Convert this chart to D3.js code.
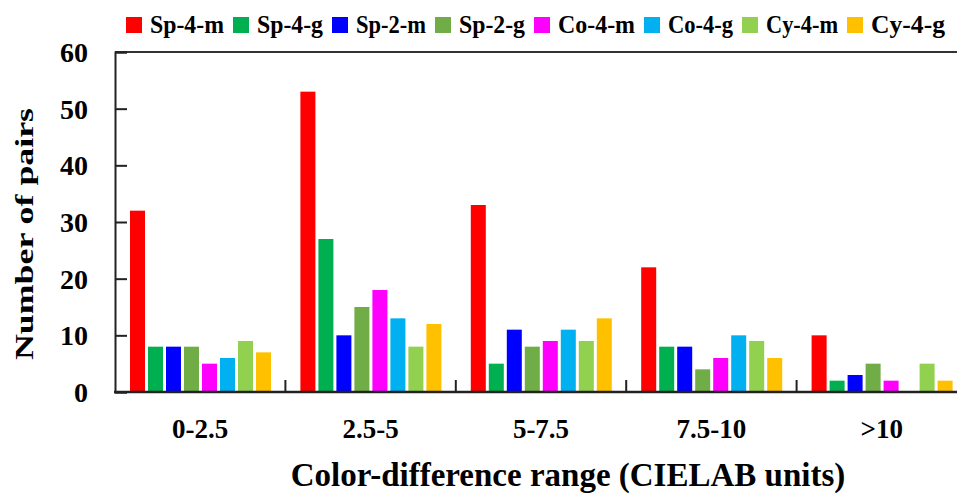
<!DOCTYPE html>
<html>
<head>
<meta charset="utf-8">
<script src="https://cdn.jsdelivr.net/npm/d3@7"></script>
<style>
  body { margin: 0; background: #fff; }
  svg { display: block; overflow: hidden; }
  text { font-family: "Liberation Serif", "Times New Roman", serif; font-weight: bold; fill: #000; }
</style>
</head>
<body>
<svg id="chart" width="957" height="493"></svg>
<script>
const categories = ["0-2.5", "2.5-5", "5-7.5", "7.5-10", ">10"];
const series = ["Sp-4-m", "Sp-4-g", "Sp-2-m", "Sp-2-g", "Co-4-m", "Co-4-g", "Cy-4-m", "Cy-4-g"];
const colors = ["#ff0000", "#00b050", "#0000ff", "#70ad47", "#ff00ff", "#00b0f0", "#92d050", "#ffc000"];

// one array per series, values per category
const sp4m = [32, 53, 33, 22, 10];
const sp4g = [8, 27, 5, 8, 2];
const sp2m = [8, 10, 11, 8, 3];
const sp2g = [8, 15, 8, 4, 5];
const co4m = [5, 18, 9, 6, 2];
const co4g = [6, 13, 11, 10, 0];
const cy4m = [9, 8, 9, 9, 5];
const cy4g = [7, 12, 13, 6, 2];
const seriesValues = [sp4m, sp4g, sp2m, sp2g, co4m, co4g, cy4m, cy4g];

const yTicks = [0, 10, 20, 30, 40, 50, 60];

const svg = d3.select("#chart");
const margin = { left: 115, right: -10, top: 52, bottom: 101 };
const width = 957, height = 493;

const x = d3.scaleBand()
  .domain(categories)
  .range([margin.left, width - margin.right])
  .padding(0);

const xInner = d3.scaleBand()
  .domain(series)
  .range([15, 156])
  .paddingInner(1 / 6)
  .paddingOuter(0);

const y = d3.scaleLinear()
  .domain([0, 60])
  .range([height - margin.bottom, margin.top]);

const rows = [];
categories.forEach((c, i) => {
  series.forEach((s, j) => {
    rows.push({ cat: c, series: s, value: seriesValues[j][i], color: colors[j] });
  });
});

// bars
svg.append("g")
  .selectAll("rect")
  .data(rows)
  .join("rect")
  .attr("x", d => x(d.cat) + xInner(d.series))
  .attr("y", d => y(d.value))
  .attr("width", xInner.bandwidth())
  .attr("height", d => y(0) - y(d.value))
  .attr("fill", d => d.color);

// frame top line
svg.append("line")
  .attr("x1", margin.left).attr("x2", width)
  .attr("y1", y(60)).attr("y2", y(60))
  .attr("stroke", "#333").attr("stroke-width", 2);

// y axis
const yAxis = g => g
  .attr("transform", `translate(${ margin.left },0)`)
  .call(d3.axisRight(y).tickValues(yTicks).tickSize(12).tickFormat(""))
  .call(g => g.select(".domain").attr("stroke", "#222").attr("stroke-width", 2))
  .call(g => g.selectAll(".tick line").attr("stroke", "#222").attr("stroke-width", 2));
svg.append("g").call(yAxis);

svg.append("g")
  .selectAll("text")
  .data(yTicks)
  .join("text")
  .attr("x", 88)
  .attr("y", d => y(d))
  .attr("dy", "0.36em")
  .attr("text-anchor", "end")
  .style("font-size", "28px")
  .text(d => d);

// x axis
const bounds = categories.map(c => x(c)).slice(1);
svg.append("line")
  .attr("x1", margin.left - 1).attr("x2", width)
  .attr("y1", y(0)).attr("y2", y(0))
  .attr("stroke", "#222").attr("stroke-width", 2.5);

svg.append("g")
  .selectAll("line")
  .data(bounds)
  .join("line")
  .attr("x1", d => d).attr("x2", d => d)
  .attr("y1", y(0)).attr("y2", y(0) - 12)
  .attr("stroke", "#222").attr("stroke-width", 2);

svg.append("g")
  .selectAll("text")
  .data(categories)
  .join("text")
  .attr("x", d => x(d) + x.bandwidth() / 2)
  .attr("y", 438)
  .attr("text-anchor", "middle")
  .style("font-size", "27px")
  .text(d => d);

// axis titles
svg.append("text")
  .attr("x", 568)
  .attr("y", 486)
  .attr("text-anchor", "middle")
  .style("font-size", "33px")
  .text("Color-difference range (CIELAB units)");

svg.append("text")
  .attr("transform", "translate(33,234) rotate(-90)")
  .attr("text-anchor", "middle")
  .attr("textLength", 252)
  .attr("lengthAdjust", "spacingAndGlyphs")
  .style("font-size", "25px")
  .text("Number of pairs");

// legend (square positions and label widths as in the original layout)
const legendX = [126, 233, 332, 435, 534, 644, 742, 847];
const legendW = [74, 66, 70, 66, 77, 65, 72, 74];
const legend = svg.append("g");
series.forEach((s, i) => {
  legend.append("rect")
    .attr("x", legendX[i]).attr("y", 17)
    .attr("width", 16).attr("height", 16)
    .attr("fill", colors[i]);
  legend.append("text")
    .attr("x", legendX[i] + 24)
    .attr("y", 33)
    .attr("textLength", legendW[i])
    .attr("lengthAdjust", "spacingAndGlyphs")
    .style("font-size", "25px")
    .text(s);
});
</script>
</body>
</html>
